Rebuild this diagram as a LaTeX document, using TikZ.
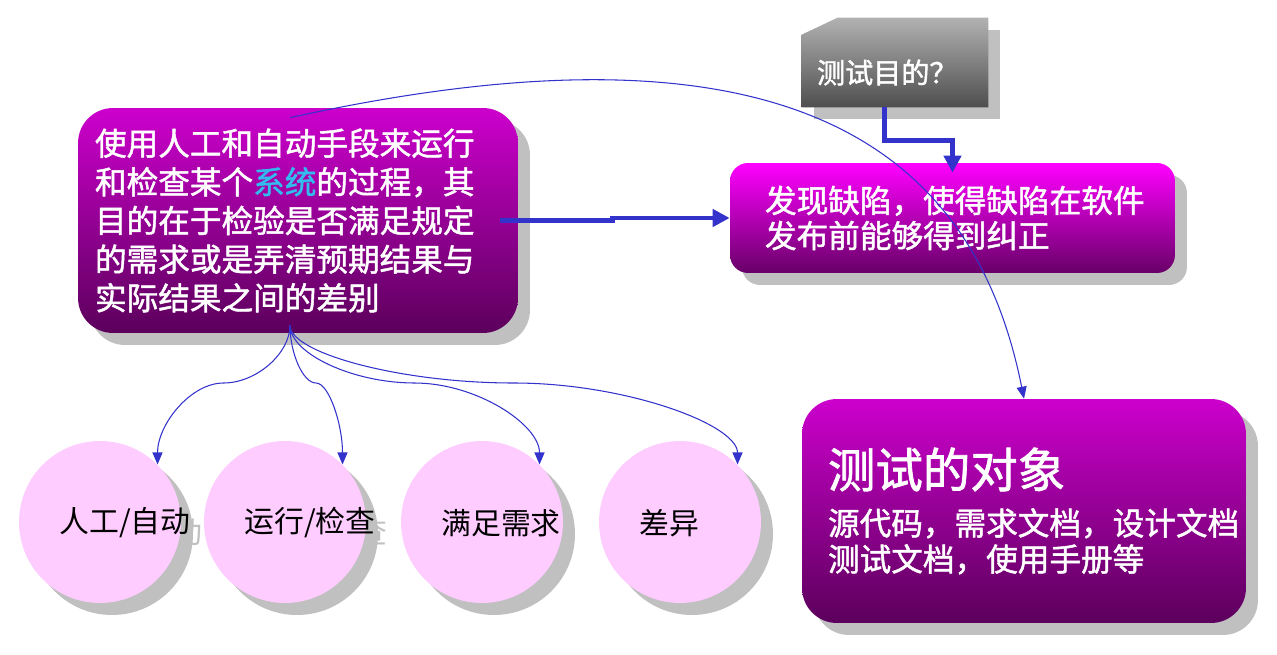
\documentclass[tikz,border=0pt]{standalone}
\usepackage{fontspec}
\newfontfamily\cjk{Noto Sans CJK SC}
\newfontfamily\cjkb[FakeBold=1.5]{Noto Sans CJK SC}
\usetikzlibrary{arrows.meta, positioning, shadows, calc}
\definecolor{boxtop}{RGB}{204,0,204}
\definecolor{boxbot}{RGB}{92,0,92}
\definecolor{hottop}{RGB}{255,0,255}
\definecolor{hotbot}{RGB}{104,0,104}
\definecolor{goaltop}{RGB}{178,178,178}
\definecolor{goalbot}{RGB}{78,78,78}
\definecolor{ballfill}{RGB}{255,204,255}
\definecolor{linkblue}{RGB}{51,51,204}
\definecolor{syscyan}{RGB}{51,187,238}
\definecolor{shadowgray}{RGB}{192,192,192}

\begin{document}
\begin{tikzpicture}[
    x=0.02cm, y=-0.02cm,
    shadowed/.style={drop shadow={shadow xshift=0.24cm, shadow yshift=-0.24cm,
                     fill=shadowgray, opacity=1}},
    shade box/.style={shadowed, rounded corners=0.7cm, top color=boxtop,
                      bottom color=boxbot, text=white, align=left},
    ball/.style={shadowed, circle, fill=ballfill, minimum size=3.24cm,
                 inner sep=0pt},
    balltext/.style={anchor=west, inner sep=0pt,
                     font=\cjk\fontsize{17}{20}\selectfont},
    ghost/.style={balltext, text=shadowgray},
    fat/.style={line width=0.1cm, linkblue,
                -{Triangle[length=0.34cm, width=0.34cm]}},
    wire/.style={line width=0.6pt, linkblue,
                 -{Triangle[length=0.24cm, width=0.2cm]}}
  ]
  \path[use as bounding box, fill=white] (0,0) rectangle (1277,655);

  \node[shade box, minimum width=8.8cm, minimum height=4.5cm, text width=8.12cm,
        font=\cjkb\fontsize{18}{22}\selectfont] (lbox) at (298,220.5)
    {使用人工和自动手段来运行\\
     和检查某个{\color{syscyan}系统}的过程，其\\
     目的在于检验是否满足规定\\
     的需求或是弄清预期结果与\\
     实际结果之间的差别};

  \node[shade box, top color=hottop, bottom color=hotbot, rounded corners=0.36cm,
        minimum width=8.9cm, minimum height=2.2cm, text width=7.5cm,
        font=\cjkb\fontsize{18}{20}\selectfont] (rbox) at (952.5,218)
    {发现缺陷，使得缺陷在软件\\发布前能够得到纠正};

  \node[shade box, minimum width=8.88cm, minimum height=4.48cm, text width=7.84cm,
        font=\cjkb\fontsize{18}{20.5}\selectfont] (bbox) at (1024,511)
    {{\fontsize{27}{32}\selectfont 测试的对象}\\[6.5pt]
     源代码，需求文档，设计文档\\
     测试文档，使用手册等};

  \node[inner sep=0pt, minimum width=3.72cm, minimum height=1.78cm] (goal) at (895,62.5) {};
  \fill[shadowgray] ([shift={(12,12)}]goal.north west) rectangle ([shift={(12,12)}]goal.south east);
  \shade[top color=goaltop, bottom color=goalbot] ([yshift=-0.34cm]goal.north west)
    -- ([xshift=0.72cm]goal.north west) -- (goal.north east) -- (goal.south east)
    -- (goal.south west) -- cycle;
  \node[anchor=west, inner sep=0pt, text=white,
        font=\cjkb\fontsize{16}{18}\selectfont] (goaltxt)
    at ([shift={(15,10)}]goal.west) {测试目的？};

  \node[ghost] (g1) at (71,534) {人工/自动};
  \node[ghost] (g2) at (256,534) {运行/检查};
  \node[ghost] (g3) at (453,534) {满足需求};
  \node[ghost] (g4) at (651,534) {差异};

  \node[ball] (b1) at (100,522) {};
  \node[ball] (b2) at (285,522) {};
  \node[ball] (b3) at (482,522) {};
  \node[ball] (b4) at (680,522) {};

  \node[balltext] (t1) at (59,523) {人工/自动};
  \node[balltext] (t2) at (244,523) {运行/检查};
  \node[balltext] (t3) at (441,523) {满足需求};
  \node[balltext] (t4) at (639,523) {差异};

  \draw[fat] ([xshift=-0.36cm]lbox.east) -- ++(112,0) |- (rbox.west);
  \draw[fat] ([xshift=-0.22cm]goal.south) -- ++(0,33) -| ([yshift=-0.2cm]rbox.north);

  \coordinate (fork) at ([shift={(-8,-8)}]lbox.south);
  \coordinate (k1) at (223.5,383);
  \coordinate (k2) at (316,383);
  \coordinate (k3) at (414.5,383);
  \coordinate (k4) at (513.5,383);
  \draw[wire] (fork) .. controls +(0,28) and +(33,0) .. (k1)
    .. controls +(-33,0) and +(0,-40) .. (b1.45);
  \draw[wire] (fork) .. controls +(0,28) and +(-13,0) .. (k2)
    .. controls +(13,0) and +(0,-40) .. (b2.45);
  \draw[wire] (fork) .. controls +(0,28) and +(-62,0) .. (k3)
    .. controls +(62,0) and +(0,-40) .. (b3.45);
  \draw[wire] (fork) .. controls +(0,28) and +(-112,0) .. (k4)
    .. controls +(112,0) and +(0,-40) .. (b4.45);
  \draw[wire] ([shift={(-8,10)}]lbox.north) .. controls +(500,-110) and +(-50,-250) .. (bbox.north);
\end{tikzpicture}
\end{document}
